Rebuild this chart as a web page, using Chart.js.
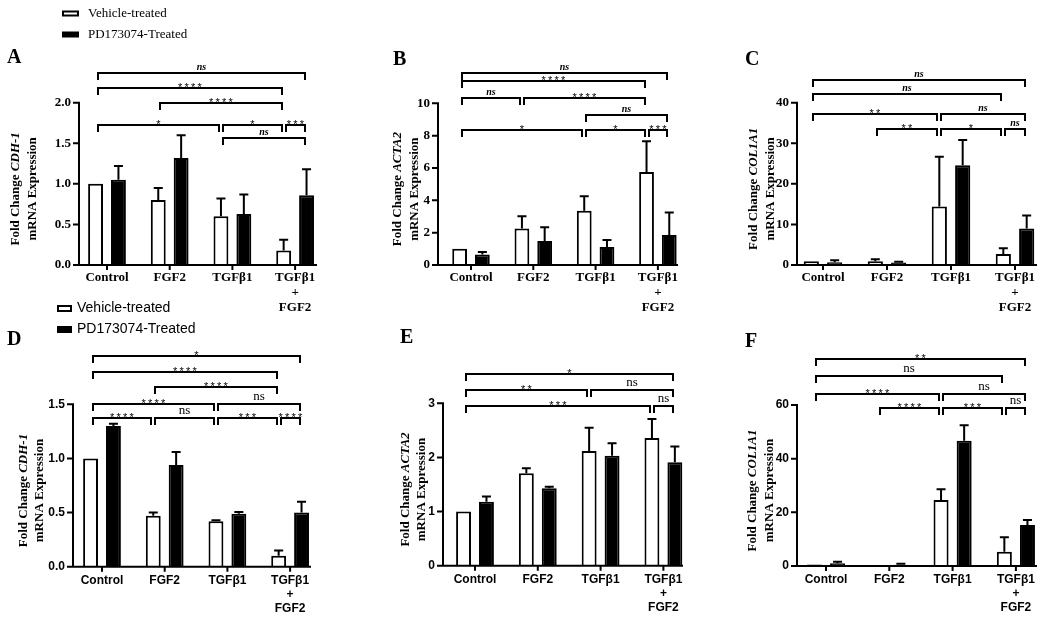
<!DOCTYPE html>
<html><head><meta charset="utf-8">
<script src="https://cdn.jsdelivr.net/npm/chart.js@4.4.1/dist/chart.umd.min.js"></script>
<style>
html,body{margin:0;padding:0;background:#fff;}
#wrap{position:relative;width:1050px;height:620px;overflow:hidden;background:#fff;}
canvas{position:absolute;left:0;top:0;}
</style>
</head><body><div id="wrap"></div>
<script>
// ---------- data ----------
const categories = ['Control', 'FGF2', 'TGFβ1', ['TGFβ1', '+', 'FGF2']];
const seriesNames = ['Vehicle-treated', 'PD173074-Treated'];

// Panel A – CDH-1
const aVehicle = [1.00, 0.80, 0.60, 0.18];
const aVehicleErr = [0, 0.15, 0.22, 0.13];
const aPD = [1.05, 1.32, 0.63, 0.86];
const aPDErr = [0.17, 0.28, 0.24, 0.32];
const aYTicks = [0, 0.5, 1.0, 1.5, 2.0];
const aYLabels = ['0.0', '0.5', '1.0', '1.5', '2.0'];
const aSig = [[0,0,3,1,2.36,'ns'],[0,0,3,0,2.18,'****'],[1,0,3,0,2.00,'****'],[0,0,2,0,1.73,'*'],[2,0,3,0,1.73,'*'],[3,0,3,1,1.73,'***'],[2,0,3,1,1.57,'ns']];

// Panel B – ACTA2
const bVehicle = [1.00, 2.25, 3.35, 5.75];
const bVehicleErr = [0, 0.77, 0.90, 1.90];
const bPD = [0.65, 1.48, 1.12, 1.85];
const bPDErr = [0.15, 0.85, 0.43, 1.40];
const bYTicks = [0, 2, 4, 6, 8, 10];
const bYLabels = ['0', '2', '4', '6', '8', '10'];
const bSig = [[0,0,3,1,11.9,'ns'],[0,0,3,0,11.4,'****'],[0,0,1,0,10.3,'ns'],[1,0,3,0,10.3,'****'],[2,0,3,1,9.28,'ns'],[0,0,2,0,8.35,'*'],[2,0,3,0,8.35,'*'],[3,0,3,1,8.35,'***']];

// Panel C – COL1A1
const cVehicle = [0.9, 0.9, 14.4, 2.7];
const cVehicleErr = [0, 0.5, 12.3, 1.4];
const cPD = [0.7, 0.6, 24.6, 9.0];
const cPDErr = [0.5, 0.2, 6.2, 3.2];
const cYTicks = [0, 10, 20, 30, 40];
const cYLabels = ['0', '10', '20', '30', '40'];
const cSig = [[0,0,3,1,45.6,'ns'],[0,0,3,0,42.1,'ns'],[0,0,2,0,37.2,'**'],[2,0,3,1,37.2,'ns'],[1,0,2,0,33.4,'**'],[2,0,3,0,33.4,'*'],[3,0,3,1,33.4,'ns']];

// Panel D – CDH-1
const dVehicle = [1.00, 0.47, 0.42, 0.10];
const dVehicleErr = [0, 0.03, 0.01, 0.05];
const dPD = [1.30, 0.94, 0.49, 0.50];
const dPDErr = [0.02, 0.12, 0.015, 0.10];
const dYTicks = [0, 0.5, 1.0, 1.5];
const dYLabels = ['0.0', '0.5', '1.0', '1.5'];
const dSig = [[0,0,3,1,1.95,'*'],[0,0,3,0,1.80,'****'],[1,0,3,0,1.66,'****'],[0,0,2,0,1.50,'****'],[2,0,3,1,1.50,'ns'],[0,0,1,0,1.37,'****'],[1,0,2,0,1.37,'ns'],[2,0,3,0,1.37,'***'],[3,0,3,1,1.37,'****']];

// Panel E – ACTA2
const eVehicle = [1.00, 1.71, 2.12, 2.36];
const eVehicleErr = [0, 0.09, 0.43, 0.35];
const ePD = [1.18, 1.43, 2.03, 1.91];
const ePDErr = [0.10, 0.03, 0.23, 0.29];
const eYTicks = [0, 1, 2, 3];
const eYLabels = ['0', '1', '2', '3'];
const eSig = [[0,0,3,1,3.54,'*'],[0,0,2,0,3.25,'**'],[2,0,3,1,3.25,'ns'],[0,0,3,0,2.95,'***'],[3,0,3,1,2.95,'ns']];

// Panel F – COL1A1
const fVehicle = [0.6, 0.3, 24.6, 5.3];
const fVehicleErr = [0, 0, 4.0, 5.4];
const fPD = [1.0, 0.5, 46.7, 15.3];
const fPDErr = [0.6, 0.3, 5.8, 1.8];
const fYTicks = [0, 20, 40, 60];
const fYLabels = ['0', '20', '40', '60'];
const fSig = [[0,0,3,1,77.0,'**'],[0,0,3,0,70.8,'ns'],[0,0,2,0,64.1,'****'],[2,0,3,1,64.1,'ns'],[1,0,2,0,58.8,'****'],[2,0,3,0,58.8,'***'],[3,0,3,1,58.8,'ns']];

// ---------- styles ----------
const SERIF = '"Liberation Serif", "Times New Roman", serif';
const SANS = '"Liberation Sans", Arial, sans-serif';
const STYLES = {
  top: {
    tickFont: {family: SERIF, size: 13, weight: 'bold'},
    catFont: {family: SERIF, size: 13, weight: 'bold', lineHeight: 15/13},
    catPad: 5.5,
    nsFont: 'italic bold 10px ' + SERIF, nsDy: -3,
    starFont: '11px ' + SANS, starDy: 3,
    bracketLW: 2
  },
  bottom: {
    tickFont: {family: SANS, size: 12, weight: 'bold'},
    catFont: {family: SANS, size: 12, weight: 'bold', lineHeight: 14/12},
    catPad: 7,
    nsFont: '13px ' + SERIF, nsDy: -4,
    starFont: '11px ' + SANS, starDy: 3,
    bracketLW: 2
  }
};

const panels = [
  {letter:'A', lx:7, ly:63, gene:'CDH-1', style:'top', vehicle:aVehicle, vErr:aVehicleErr, pd:aPD, pErr:aPDErr, yTicks:aYTicks, yLabels:aYLabels, sig:aSig,
   axisX:79, firstCenter:107, band:62.7, axisEnd:317, yTop:102.7, y0:265, t1x:16, t2x:33, legend:'top'},
  {letter:'B', lx:393, ly:65, gene:'ACTA2', style:'top', vehicle:bVehicle, vErr:bVehicleErr, pd:bPD, pErr:bPDErr, yTicks:bYTicks, yLabels:bYLabels, sig:bSig,
   axisX:438, firstCenter:471, band:62.3, axisEnd:678, yTop:103.3, y0:265, t1x:398, t2x:415},
  {letter:'C', lx:745, ly:65, gene:'COL1A1', style:'top', vehicle:cVehicle, vErr:cVehicleErr, pd:cPD, pErr:cPDErr, yTicks:cYTicks, yLabels:cYLabels, sig:cSig,
   axisX:797, firstCenter:823, band:64, axisEnd:1037, yTop:102.7, y0:265, t1x:754, t2x:771},
  {letter:'D', lx:7, ly:345, gene:'CDH-1', style:'bottom', vehicle:dVehicle, vErr:dVehicleErr, pd:dPD, pErr:dPDErr, yTicks:dYTicks, yLabels:dYLabels, sig:dSig,
   axisX:73, firstCenter:102, band:62.7, axisEnd:311, yTop:404.3, y0:566.7, t1x:24, t2x:40, legend:'bottom'},
  {letter:'E', lx:400, ly:343, gene:'ACTA2', style:'bottom', vehicle:eVehicle, vErr:eVehicleErr, pd:ePD, pErr:ePDErr, yTicks:eYTicks, yLabels:eYLabels, sig:eSig,
   axisX:443, firstCenter:475, band:62.8, axisEnd:683, yTop:403.3, y0:565.7, t1x:406, t2x:422},
  {letter:'F', lx:745, ly:347, gene:'COL1A1', style:'bottom', vehicle:fVehicle, vErr:fVehicleErr, pd:fPD, pErr:fPDErr, yTicks:fYTicks, yLabels:fYLabels, sig:fSig,
   axisX:797, firstCenter:826, band:63.3, axisEnd:1037, yTop:405, y0:566, t1x:753, t2x:770}
];

function drawLegend(ctx, kind) {
  ctx.save();
  ctx.fillStyle = '#000'; ctx.strokeStyle = '#000';
  ctx.textAlign = 'left'; ctx.textBaseline = 'middle';
  if (kind === 'top') {
    ctx.lineWidth = 2; ctx.strokeRect(63, 11.5, 15, 4);
    ctx.fillRect(62, 31.5, 17, 6);
    ctx.font = '13px ' + SERIF;
    ctx.fillText(seriesNames[0], 88, 13.5);
    ctx.fillText(seriesNames[1], 88, 34.5);
  } else {
    ctx.lineWidth = 2; ctx.strokeRect(58, 306, 13, 5);
    ctx.fillRect(57, 326, 15, 7);
    ctx.font = '14px ' + SANS;
    ctx.fillText(seriesNames[0], 77, 308.5);
    ctx.fillText(seriesNames[1], 77, 329.5);
  }
  ctx.restore();
}

function makePlugin(p) {
  const st = STYLES[p.style];
  return {
    id: 'panel' + p.letter,
    afterDatasetsDraw(chart) {
      const ctx = chart.ctx, xs = chart.scales.x, ys = chart.scales.y;
      const y0 = ys.getPixelForValue(0);
      const yT = ys.getPixelForValue(p.yTicks[p.yTicks.length - 1]);
      ctx.save();
      ctx.strokeStyle = '#000'; ctx.fillStyle = '#000'; ctx.lineCap = 'butt';
      // error bars (upper)
      [[p.vehicle, p.vErr], [p.pd, p.pErr]].forEach(([vals, errs], di) => {
        chart.getDatasetMeta(di).data.forEach((bar, j) => {
          if (!errs[j]) return;
          const ye = ys.getPixelForValue(vals[j] + errs[j]);
          ctx.lineWidth = 2;
          ctx.beginPath();
          ctx.moveTo(bar.x, bar.y); ctx.lineTo(bar.x, ye);
          ctx.moveTo(bar.x - 4.5, ye); ctx.lineTo(bar.x + 4.5, ye);
          ctx.stroke();
        });
      });
      // axes
      ctx.lineWidth = 2;
      ctx.beginPath();
      ctx.moveTo(p.axisX, yT - 1); ctx.lineTo(p.axisX, y0 + 1);
      ctx.moveTo(p.axisX - 1, y0); ctx.lineTo(p.axisEnd, y0);
      ys.ticks.forEach(t => {
        const y = ys.getPixelForValue(t.value);
        ctx.moveTo(p.axisX - 6, y); ctx.lineTo(p.axisX, y);
      });
      for (let j = 0; j < categories.length; j++) {
        const x = xs.getPixelForValue(j);
        ctx.moveTo(x, y0); ctx.lineTo(x, y0 + 5);
      }
      ctx.stroke();
      // significance brackets
      p.sig.forEach(([c1, s1, c2, s2, lvl, label]) => {
        const x1 = Math.round(chart.getDatasetMeta(s1).data[c1].x) + 2;
        const x2 = Math.round(chart.getDatasetMeta(s2).data[c2].x) - 2;
        const y = Math.round(ys.getPixelForValue(lvl));
        ctx.lineWidth = st.bracketLW;
        ctx.beginPath();
        ctx.moveTo(x1, y + 7); ctx.lineTo(x1, y); ctx.lineTo(x2, y); ctx.lineTo(x2, y + 7);
        ctx.stroke();
        const cx = (x1 + x2) / 2;
        ctx.textAlign = 'center'; ctx.textBaseline = 'alphabetic';
        if (label === 'ns') {
          ctx.font = st.nsFont;
          ctx.fillText('ns', cx, y + st.nsDy);
        } else {
          ctx.font = st.starFont;
          const n = label.length;
          for (let k = 0; k < n; k++) ctx.fillText('*', cx + (k - (n - 1) / 2) * 6.5, y + st.starDy);
        }
      });
      // y axis title (two lines, rotated)
      const cy = (yT + y0) / 2 + 5;
      const drawTitle = (x, parts) => {
        ctx.save();
        ctx.translate(x, cy); ctx.rotate(-Math.PI / 2);
        ctx.textAlign = 'left'; ctx.textBaseline = 'middle';
        let total = 0;
        parts.forEach(([t, f]) => { ctx.font = f; total += ctx.measureText(t).width; });
        let cur = -total / 2;
        parts.forEach(([t, f]) => { ctx.font = f; ctx.fillText(t, cur, 0); cur += ctx.measureText(t).width; });
        ctx.restore();
      };
      drawTitle(p.t1x, [['Fold Change ', 'bold 13px ' + SERIF], [p.gene, 'italic bold 13px ' + SERIF]]);
      drawTitle(p.t2x, [['mRNA Expression', 'bold 13px ' + SERIF]]);
      // panel letter
      ctx.font = 'bold 20px ' + SERIF;
      ctx.textAlign = 'left'; ctx.textBaseline = 'alphabetic';
      ctx.fillText(p.letter, p.lx, p.ly);
      ctx.restore();
      if (p.legend) drawLegend(ctx, p.legend);
    }
  };
}

function makeChart(p) {
  const st = STYLES[p.style];
  const canvas = document.createElement('canvas');
  canvas.width = 1050; canvas.height = 620;
  canvas.style.width = '1050px'; canvas.style.height = '620px';
  document.getElementById('wrap').appendChild(canvas);
  const chartLeft = p.firstCenter - p.band / 2;
  const chartRight = chartLeft + p.band * categories.length;
  const XH = 50;
  const yMax = p.yTicks[p.yTicks.length - 1];
  new Chart(canvas, {
    type: 'bar',
    data: {
      labels: categories,
      datasets: [
        {label: seriesNames[0], data: p.vehicle, backgroundColor: '#ffffff', borderColor: '#000000', borderWidth: 2},
        {label: seriesNames[1], data: p.pd, backgroundColor: '#000000', borderColor: '#000000', borderWidth: 2}
      ]
    },
    options: {
      responsive: false, animation: false, devicePixelRatio: 1,
      layout: {padding: {left: 0, right: 1050 - chartRight, top: p.yTop, bottom: 620 - p.y0 - XH}},
      datasets: {bar: {categoryPercentage: 0.73, barPercentage: 0.65}},
      plugins: {legend: {display: false}, tooltip: {enabled: false}, title: {display: false}},
      scales: {
        x: {
          type: 'category', offset: true,
          grid: {display: false, drawTicks: false}, border: {display: false},
          ticks: {color: '#000', font: st.catFont, padding: st.catPad, maxRotation: 0, autoSkip: false},
          afterFit: s => { s.height = XH; }
        },
        y: {
          min: 0, max: yMax,
          grid: {display: false, drawTicks: false}, border: {display: false},
          afterBuildTicks: s => { s.ticks = p.yTicks.map(v => ({value: v})); },
          ticks: {color: '#000', font: st.tickFont, padding: chartLeft - p.axisX + 8,
                  callback: (v, i) => p.yLabels[i]},
          afterFit: s => { s.width = chartLeft; }
        }
      }
    },
    plugins: [makePlugin(p)]
  });
}

panels.forEach(makeChart);
</script>
</body></html>
